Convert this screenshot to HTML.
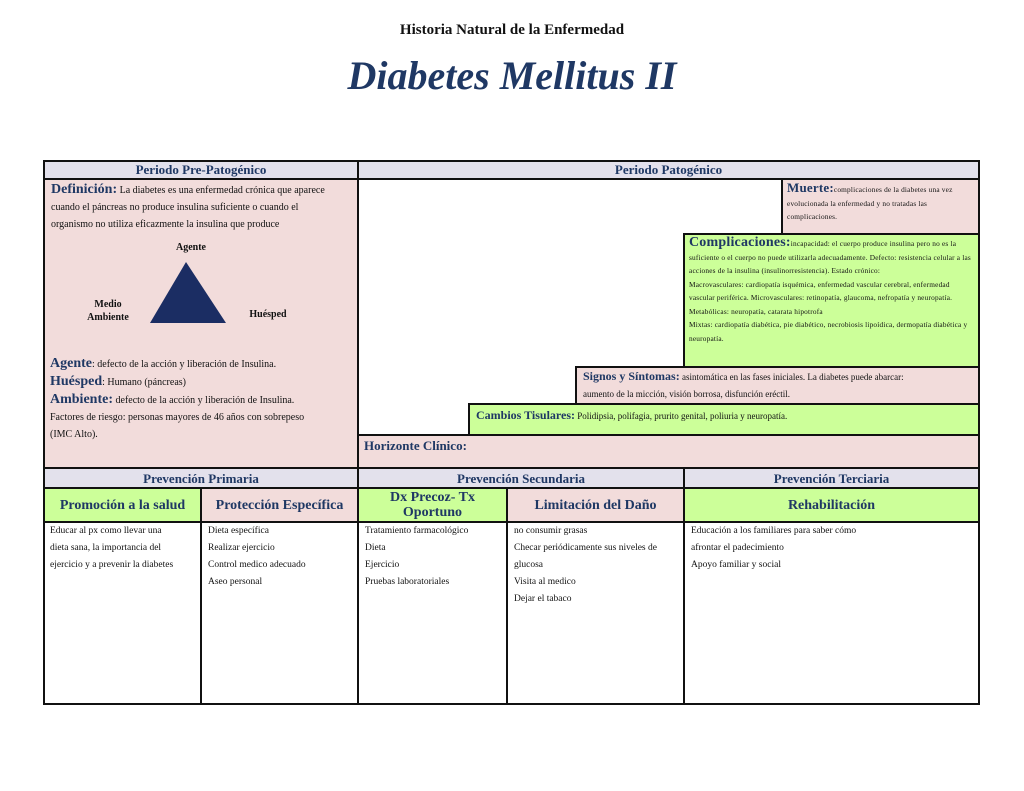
<!DOCTYPE html>
<html><head><meta charset="utf-8"><style>
body{margin:0;width:1024px;height:791px;background:#fff;position:relative;font-family:"Liberation Serif",serif;color:#111;overflow:hidden}
.a{position:absolute;box-sizing:border-box}
.b{border:2px solid #111}
.hd{background:#e3e1ec;color:#1f3864;text-align:center;font-size:13px;font-weight:bold;line-height:16px}
.pk{background:#f2dcdb}.gr{background:#ccff99}
.t{font-size:10px;line-height:17px}
.s{font-size:7.3px;line-height:13.5px;letter-spacing:0.2px}
.n{color:#1f3864;font-weight:bold}
.sub{color:#1f3864;font-weight:bold;font-size:14px;text-align:center;display:flex;align-items:center;justify-content:center;line-height:15px}
.lbl{font-size:10px;font-weight:bold;text-align:center;line-height:13px}
</style></head><body>
<div class="a" style="left:0;top:22px;width:1024px;text-align:center;font-size:15px;font-weight:bold">Historia Natural de la Enfermedad</div>
<div class="a" style="left:0;top:52px;width:1024px;text-align:center;font-size:40px;font-style:italic;font-weight:bold;color:#1f3864">Diabetes Mellitus II</div>

<div class="a b hd" style="left:43px;top:160px;width:316px;height:20px">Periodo Pre-Patogénico</div>
<div class="a b hd" style="left:357px;top:160px;width:623px;height:20px">Periodo Patogénico</div>
<div class="a b pk" style="left:43px;top:178px;width:316px;height:291px;padding:1px 6px">
<div class="t"><span class="n" style="font-size:14px">Definición:</span> La diabetes es una enfermedad crónica que aparece<br>cuando el páncreas no produce insulina suficiente o cuando el<br>organismo no utiliza eficazmente la insulina que produce</div>
</div>
<div class="a lbl" style="left:166px;top:241px;width:50px">Agente</div>
<svg class="a" style="left:148px;top:260px" width="80" height="64"><polygon points="38,2 78,63 2,63" fill="#1b2d63"/></svg>
<div class="a lbl" style="left:78px;top:298px;width:60px">Medio<br>Ambiente</div>
<div class="a lbl" style="left:243px;top:308px;width:50px">Huésped</div>
<div class="a t" style="left:50px;top:355px;width:305px"><span class="n" style="font-size:14px">Agente</span>: defecto de la acción y liberación de Insulina.<br><span class="n" style="font-size:14px">Huésped</span>: Humano (páncreas)<br><span class="n" style="font-size:14px">Ambiente:</span> defecto de la acción y liberación de Insulina.<br>Factores de riesgo: personas mayores de 46 años con sobrepeso<br>(IMC Alto).</div>

<div class="a b" style="left:357px;top:178px;width:623px;height:291px"></div>
<div class="a b pk s" style="left:781px;top:178px;width:199px;height:57px;padding:1px 4px"><span class="n" style="font-size:13px">Muerte:</span>complicaciones de la diabetes una vez evolucionada la enfermedad y no tratadas las complicaciones.</div>
<div class="a b gr s" style="left:683px;top:233px;width:297px;height:135px;padding:1px 4px"><span class="n" style="font-size:14px">Complicaciones:</span>incapacidad: el cuerpo produce insulina pero no es la suficiente o el cuerpo no puede utilizarla adecuadamente. Defecto: resistencia celular a las acciones de la insulina (insulinorresistencia). Estado crónico:<br>Macrovasculares: cardiopatía isquémica, enfermedad vascular cerebral, enfermedad vascular periférica. Microvasculares: retinopatía, glaucoma, nefropatía y neuropatía. Metabólicas: neuropatía, catarata hipotrofa<br>Mixtas: cardiopatía diabética, pie diabético, necrobiosis lipoídica, dermopatía diabética y neuropatía.</div>
<div class="a b pk" style="left:575px;top:366px;width:405px;height:39px;padding:0 6px;font-size:9px;line-height:17px"><span class="n" style="font-size:12px">Signos y Síntomas:</span> asintomática en las fases iniciales. La diabetes puede abarcar:<br>aumento de la micción, visión borrosa, disfunción eréctil.</div>
<div class="a b gr" style="left:468px;top:403px;width:512px;height:33px;padding:2px 6px;font-size:9px;line-height:17px"><span class="n" style="font-size:12px">Cambios Tisulares:</span> Polidipsia, polifagia, prurito genital, poliuria y neuropatía.</div>
<div class="a b pk" style="left:357px;top:434px;width:623px;height:35px;padding:1px 5px"><span class="n" style="font-size:13px">Horizonte Clínico:</span></div>

<div class="a b hd" style="left:43px;top:467px;width:316px;height:22px;line-height:19px">Prevención Primaria</div>
<div class="a b hd" style="left:357px;top:467px;width:328px;height:22px;line-height:19px">Prevención Secundaria</div>
<div class="a b hd" style="left:683px;top:467px;width:297px;height:22px;line-height:19px">Prevención Terciaria</div>
<div class="a b gr sub" style="left:43px;top:487px;width:159px;height:36px">Promoción a la salud</div>
<div class="a b pk sub" style="left:200px;top:487px;width:159px;height:36px">Protección Específica</div>
<div class="a b gr sub" style="left:357px;top:487px;width:151px;height:36px">Dx Precoz- Tx<br>Oportuno</div>
<div class="a b pk sub" style="left:506px;top:487px;width:179px;height:36px">Limitación del Daño</div>
<div class="a b gr sub" style="left:683px;top:487px;width:297px;height:36px">Rehabilitación</div>
<div class="a b t" style="left:43px;top:521px;width:159px;height:184px;padding:0 5px;font-size:9.5px">Educar al px como llevar una<br>dieta sana, la importancia del<br>ejercicio y a prevenir la diabetes</div>
<div class="a b t" style="left:200px;top:521px;width:159px;height:184px;padding:0 6px;font-size:9.5px">Dieta específica<br>Realizar ejercicio<br>Control medico adecuado<br>Aseo personal</div>
<div class="a b t" style="left:357px;top:521px;width:151px;height:184px;padding:0 6px;font-size:9.5px">Tratamiento farmacológico<br>Dieta<br>Ejercicio<br>Pruebas laboratoriales</div>
<div class="a b t" style="left:506px;top:521px;width:179px;height:184px;padding:0 6px;font-size:9.5px">no consumir grasas<br>Checar periódicamente sus niveles de<br>glucosa<br>Visita al medico<br>Dejar el tabaco</div>
<div class="a b t" style="left:683px;top:521px;width:297px;height:184px;padding:0 6px;font-size:9.5px">Educación a los familiares para saber cómo<br>afrontar el padecimiento<br>Apoyo familiar y social</div>
</body></html>
